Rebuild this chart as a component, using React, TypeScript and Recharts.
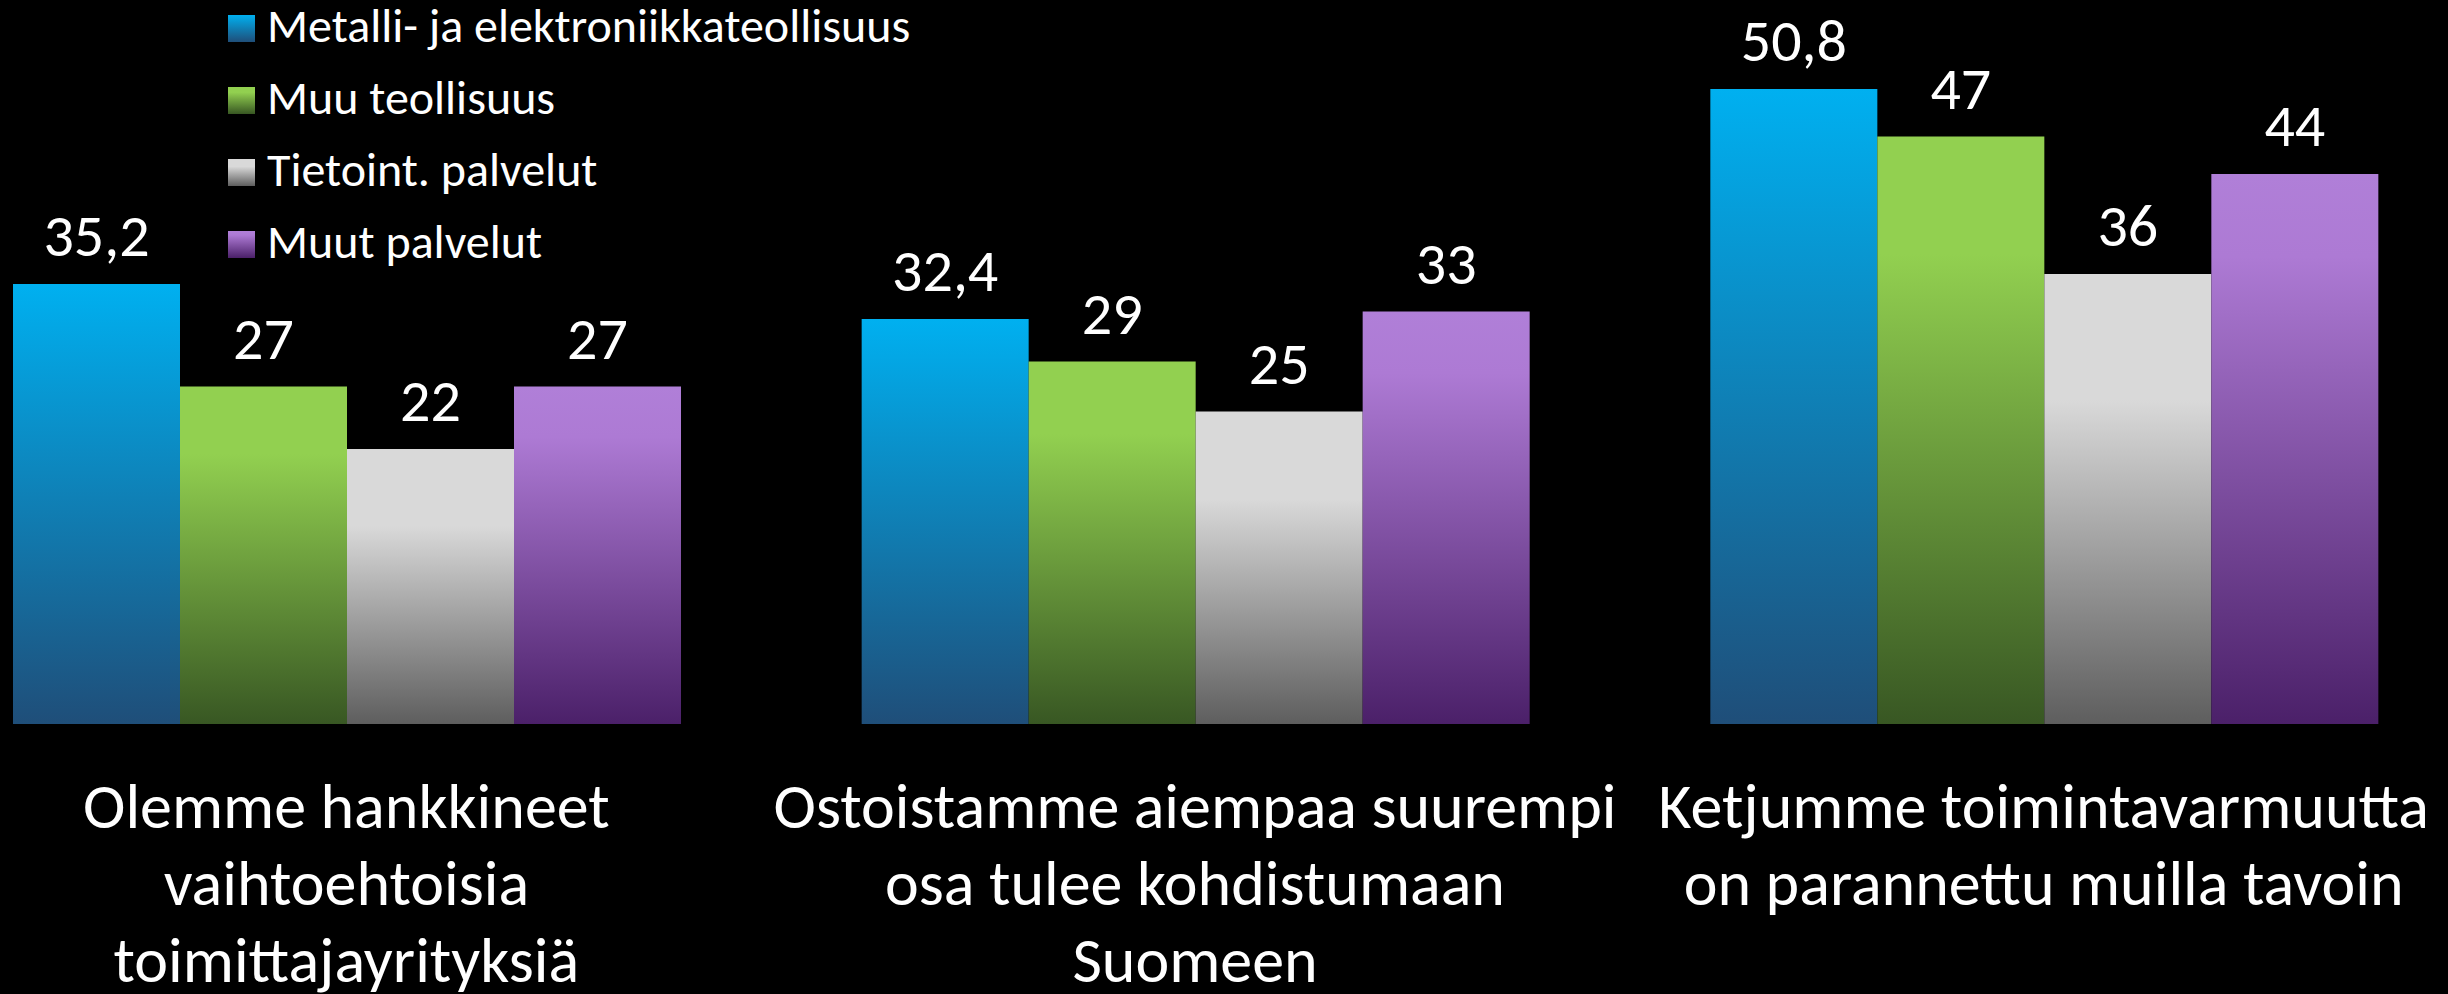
import React from "react";
import { BarChart, Bar, XAxis, YAxis, Legend, LabelList } from "recharts";

const categories = [
  "Olemme hankkineet\nvaihtoehtoisia\ntoimittajayrityksiä",
  "Ostoistamme aiempaa suurempi\nosa tulee kohdistumaan\nSuomeen",
  "Ketjumme toimintavarmuutta\non parannettu muilla tavoin",
];
const seriesNames = [
  "Metalli- ja elektroniikkateollisuus",
  "Muu teollisuus",
  "Tietoint. palvelut",
  "Muut palvelut",
];
const metalli = [35.2, 32.4, 50.8];
const muuTeollisuus = [27, 29, 47];
const tietoint = [22, 25, 36];
const muutPalvelut = [27, 33, 44];

const keys = ["metalli", "muuTeollisuus", "tietoint", "muutPalvelut"];
const data = categories.map((c, i) => ({
  category: c,
  metalli: metalli[i],
  muuTeollisuus: muuTeollisuus[i],
  tietoint: tietoint[i],
  muutPalvelut: muutPalvelut[i],
}));

const gradients: Record<string, { offset: number; color: string }[]> = {
  metalli: [
    { offset: 0, color: "#00B0F0" },
    { offset: 1, color: "#1F4E79" },
  ],
  muuTeollisuus: [
    { offset: 0, color: "#92D050" },
    { offset: 0.2, color: "#92D050" },
    { offset: 1, color: "#385723" },
  ],
  tietoint: [
    { offset: 0, color: "#D9D9D9" },
    { offset: 0.28, color: "#D9D9D9" },
    { offset: 1, color: "#5E5E5E" },
  ],
  muutPalvelut: [
    { offset: 0, color: "#B07FD8" },
    { offset: 0.15, color: "#AD7AD4" },
    { offset: 1, color: "#4B2069" },
  ],
};

const FONT = "Carlito, Lato, 'Open Sans', sans-serif";

const GradDefs = ({ prefix }: { prefix: string }) => (
  <defs>
    {keys.map((k) => (
      <linearGradient key={k} id={`${prefix}-${k}`} x1="0" y1="0" x2="0" y2="1">
        {gradients[k].map((s, j) => (
          <stop key={j} offset={s.offset} stopColor={s.color} />
        ))}
      </linearGradient>
    ))}
  </defs>
);

const CategoryTick = (props: any) => {
  const { x, y, payload } = props;
  const lines = String(payload.value).split("\n");
  return (
    <text x={x} y={y} textAnchor="middle" fill="#FFFFFF" fontFamily={FONT} fontSize={64}>
      {lines.map((l, i) => (
        <tspan key={i} x={x} y={y + 104 + i * 77}>
          {l}
        </tspan>
      ))}
    </text>
  );
};

const LegendContent = () => (
  <svg width={800} height={270}>
    <GradDefs prefix="lg" />
    {keys.map((k, i) => (
      <g key={k}>
        <rect x={0} y={15 + i * 72} width={27} height={27} fill={`url(#lg-${k})`} />
        <text x={39} y={42 + i * 72} fill="#FFFFFF" fontFamily={FONT} fontSize={48}>
          {seriesNames[i]}
        </text>
      </g>
    ))}
  </svg>
);

const fmt = (v: any) => String(v).replace(".", ",");

export default function App() {
  return (
    <div style={{ position: "relative", width: 2448, height: 994, overflow: "hidden", background: "#000" }}>
      <style>{"body{margin:0;background:#000}"}</style>
      <div style={{ position: "absolute", left: -78, top: 0 }}>
        <BarChart
          width={2546}
          height={994}
          data={data}
          margin={{ top: 24, right: 0, bottom: 0, left: 0 }}
          barCategoryGap={91}
          barGap={0}
        >
          <GradDefs prefix="bg" />
          <XAxis
            dataKey="category"
            height={270}
            axisLine={false}
            tickLine={false}
            tickSize={0}
            tickMargin={0}
            interval={0}
            tick={<CategoryTick />}
          />
          <YAxis hide type="number" domain={[0, 56]} />
          <Legend
            layout="vertical"
            align="center"
            verticalAlign="middle"
            wrapperStyle={{ left: 306, top: 0, width: 800, height: 270 }}
            content={<LegendContent />}
          />
          {keys.map((k, i) => (
            <Bar key={k} dataKey={k} name={seriesNames[i]} fill={`url(#bg-${k})`} isAnimationActive={false}>
              <LabelList
                dataKey={k}
                position="top"
                offset={28}
                fill="#FFFFFF"
                fontFamily={FONT}
                fontSize={60}
                formatter={fmt}
              />
            </Bar>
          ))}
        </BarChart>
      </div>
    </div>
  );
}
